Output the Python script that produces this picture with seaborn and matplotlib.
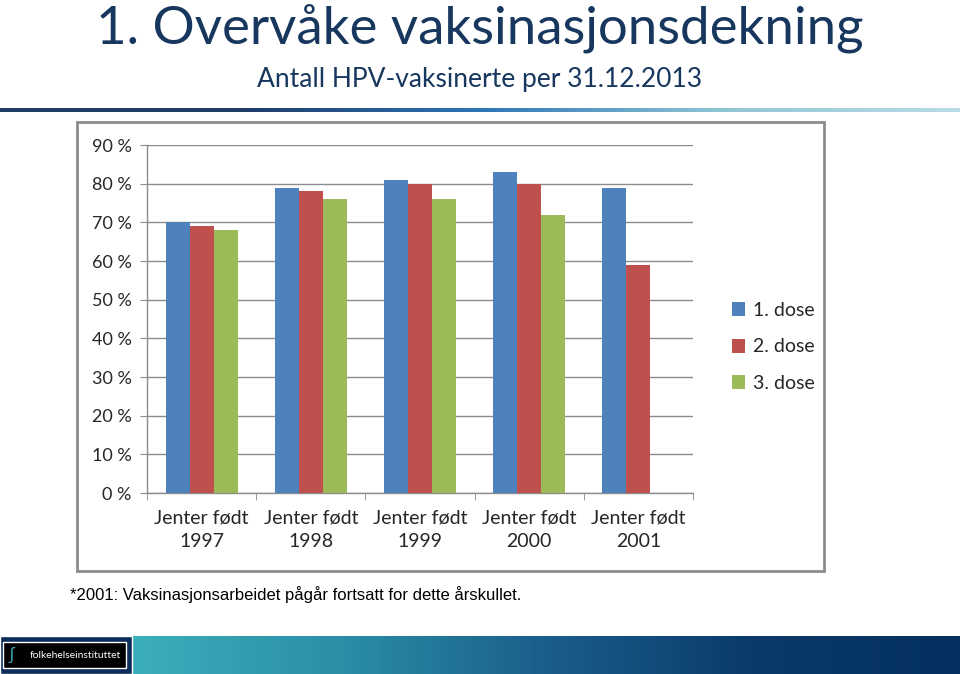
import numpy as np
import pandas as pd
import matplotlib
matplotlib.use("Agg")
import matplotlib.pyplot as plt
from matplotlib.colors import LinearSegmentedColormap
from matplotlib.patches import Rectangle
import seaborn as sns

# ── Data ───────────────────────────────────────────────────────────────────────
kull   = ["Jenter født\n1997", "Jenter født\n1998", "Jenter født\n1999",
          "Jenter født\n2000", "Jenter født\n2001"]
dose_1 = [70, 79, 81, 83, 79]
dose_2 = [69, 78, 80, 80, 59]
dose_3 = [68, 76, 76, 72, np.nan]
doser  = ["1. dose", "2. dose", "3. dose"]
y_ticks = [0, 10, 20, 30, 40, 50, 60, 70, 80, 90]

COLORS = ["#4F81BD", "#C0504D", "#9BBB59"]
TITLE_COLOR = "#17375E"
FONT = "Lato"

df = pd.DataFrame({
    "kull": kull * 3,
    "pct":  dose_1 + dose_2 + dose_3,
    "dose": [d for d in doser for _ in kull],
})

sns.set_style("white")
plt.rcParams["font.family"] = [FONT, "DejaVu Sans"]

W, H = 960, 674
fig = plt.figure(figsize=(W / 100, H / 100), dpi=100)

def fx(px):
    return px / W

def fy(py):
    return 1 - py / H

# ── Title block ────────────────────────────────────────────────────────────────
fig.text(0.5, fy(28), "1. Overvåke vaksinasjonsdekning", ha="center", va="center",
         fontsize=38, color=TITLE_COLOR)
fig.text(0.5, fy(80), "Antall HPV-vaksinerte per 31.12.2013", ha="center", va="center",
         fontsize=19, color=TITLE_COLOR)

# separator line with gradient
line_ax = fig.add_axes([0, fy(112), 1, 4 / H])
line_cmap = LinearSegmentedColormap.from_list(
    "sep", ["#1F3B68", "#1F3B68", "#2E75B6", "#8FC4D4", "#B9DCE6"])
line_ax.imshow(np.linspace(0, 1, 256)[None, :], aspect="auto", cmap=line_cmap)
line_ax.axis("off")

# chart frame
fig.patches.append(Rectangle((fx(77), fy(571)), fx(824) - fx(77), fy(122) - fy(571),
                             transform=fig.transFigure, facecolor="white",
                             edgecolor="#8C8C8C", linewidth=2, zorder=-1))

# ── Bar chart ──────────────────────────────────────────────────────────────────
ax = fig.add_axes([fx(147), fy(493), fx(693) - fx(147), fy(145) - fy(493)])
ax.set_zorder(2)
ax.patch.set_alpha(0)
sns.barplot(data=df, x="kull", y="pct", hue="dose", palette=COLORS,
            width=0.66, saturation=1, gap=0, linewidth=0, ax=ax, zorder=3)

ax.set_ylim(0, 90)
ax.set_yticks(y_ticks)
ax.set_yticklabels([f"{v} %" for v in y_ticks], fontsize=13)
ax.set_xlim(-0.5, len(kull) - 0.5)
ax.set_xlabel("")
ax.set_ylabel("")
ax.tick_params(axis="x", labelsize=14, length=0, pad=12)
for lbl in ax.get_xticklabels():
    lbl.set_linespacing(1.45)
ax.tick_params(axis="y", length=5, color="#8C8C8C", pad=6, left=True)
ax.yaxis.grid(True, color="#8C8C8C", linewidth=1)
ax.set_axisbelow(True)
for s in ["top", "right"]:
    ax.spines[s].set_visible(False)
for s in ["left", "bottom"]:
    ax.spines[s].set_color("#8C8C8C")
    ax.spines[s].set_linewidth(1)
ax.set_xticks(np.arange(-0.5, len(kull), 1.0), minor=True)
ax.tick_params(axis="x", which="minor", length=5, color="#8C8C8C", bottom=True)

handles, labels = ax.get_legend_handles_labels()
ax.legend(handles, labels, loc="center left", bbox_to_anchor=(fx(714), fy(347)),
          bbox_transform=fig.transFigure, frameon=False, fontsize=14,
          handlelength=0.7, handleheight=0.7, handletextpad=0.4, labelspacing=1.0)

# ── Footnote ───────────────────────────────────────────────────────────────────
fig.text(fx(70), fy(595), "*2001: Vaksinasjonsarbeidet pågår fortsatt for dette årskullet.",
         ha="left", va="center", fontsize=12, color="black", family="Liberation Sans")

# ── Bottom banner ──────────────────────────────────────────────────────────────
bar_ax = fig.add_axes([0, 0, 1, fy(636)])
bar_cmap = LinearSegmentedColormap.from_list(
    "banner", ["#3BAEBB", "#2B8FA6", "#1A5E8A", "#0B3A6A", "#03305F"])
grad = np.linspace(0, 1, 512)[None, :]
bar_ax.imshow(grad, aspect="auto", cmap=bar_cmap, extent=[fx(132), 1, 0, 1])
bar_ax.add_patch(Rectangle((0, 0), fx(132), 1, facecolor="#0B2D5B", zorder=2))
bar_ax.add_patch(Rectangle((fx(3), 0.15), fx(123), 0.68, facecolor="black", zorder=3))
bar_ax.text(fx(30), 0.49, "folkehelseinstituttet", ha="left", va="center",
            fontsize=7.5, color="white", zorder=4)
bar_ax.text(fx(12), 0.49, "ʃ", ha="center", va="center", fontsize=12,
            color="#3BAEBB", zorder=4)
bar_ax.set_xlim(0, 1)
bar_ax.set_ylim(0, 1)
bar_ax.axis("off")

fig.savefig("out.png", dpi=100)
